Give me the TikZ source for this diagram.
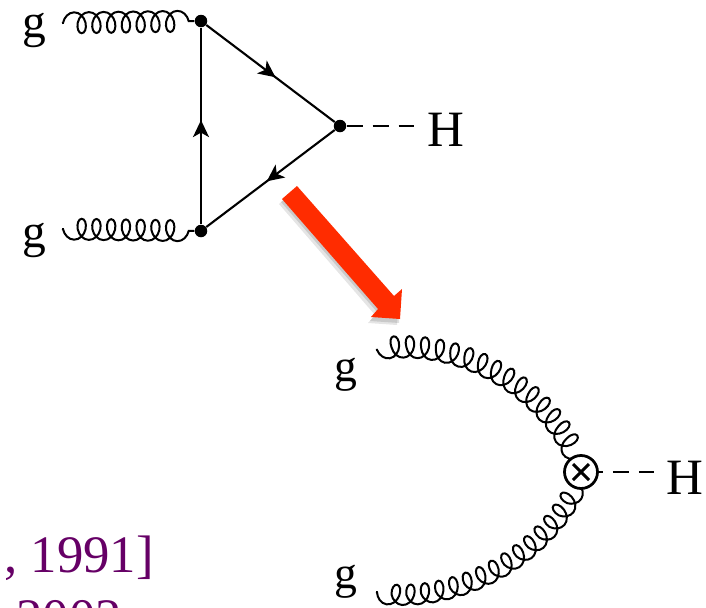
\documentclass[tikz,border=0pt]{standalone}
\usepackage{fontspec}
\setmainfont{Liberation Serif}
\usetikzlibrary{arrows.meta,decorations.pathmorphing,decorations.markings}
\definecolor{citepurple}{RGB}{102,0,102}
\definecolor{arrowred}{RGB}{255,44,0}
\tikzset{
  gluon/.style={line width=0.4mm,decorate,decoration={coil,aspect=0.72,segment length=2.95mm,amplitude=2.1mm,pre length=0.2mm,post length=0.2mm}},
  antigluon/.style={gluon,decoration={mirror}},
  fermion/.style={line width=0.42mm,postaction={decorate,decoration={markings,mark=at position #1 with {\arrow{Stealth[length=3.4mm,width=3.2mm,inset=0.9mm]}}}}},
  vertex/.style={circle,fill=black,inner sep=0pt,minimum size=2.5mm},
  higgs/.style={line width=0.36mm,dash pattern=on 3.2mm off 2mm},
  label/.style={inner sep=0pt,font=\fontsize{#1}{30}\selectfont},
}
\begin{document}
\begin{tikzpicture}[x=0.2mm,y=-0.2mm]
\useasboundingbox (0,0) rectangle (706,608);
\clip (0,0) rectangle (706,608);
% triangle
\node[vertex] (a) at (201,21) {};
\node[vertex] (b) at (201,231) {};
\node[vertex] (c) at (340,126) {};
\node[label=27] (g1) at (34,30) {g};
\node[label=27] (g2) at (34,240) {g};
\node[label=29] (h1) at (446,130) {H};
\coordinate (g1end) at (62,23);
\coordinate (g2end) at (62,229);
\coordinate (h1end) at (414,126);
\draw[gluon] (g1end)--(a);
\draw[antigluon] (g2end)--(b);
\draw[fermion=0.54] (a)--(c);
\draw[fermion=0.53] (b)--(a);
\draw[fermion=0.53] (c)--(b);
\draw[higgs] (c)--(h1end);
% red arrow
\fill[black,opacity=0.10] (279,204)--(294,191)--(391,301)--(399,294)--(397,325)--(368,323)--(375,315)--cycle;
\fill[black,opacity=0.12] (281,202)--(296,189)--(393,299)--(401,292)--(399,323)--(370,321)--(377,312)--cycle;
\fill[arrowred] (282,199)--(297,186)--(394,296)--(402,289)--(400,319)--(371,317)--(378,309)--cycle;
% effective vertex
\node[label=26] (g3) at (346,375) {g};
\node[label=26] (g4) at (346,582) {g};
\node[label=29] (h2) at (685,478) {H};
\coordinate (g3end) at (376,350);
\coordinate (g4end) at (376,592);
\coordinate (h2end) at (654,472);
\coordinate (effc) at (581,472);
\draw[antigluon] (g3end) .. controls (460,335) and (555,390) .. (effc);
\draw[antigluon] (g4end) .. controls (460,606) and (555,550) .. (effc);
\node[circle,draw,fill=white,line width=0.55mm,inner sep=0pt,minimum size=6.6mm] (eff) at (effc) {};
\draw[line width=0.6mm] (573,464)--(589,480) (573,480)--(589,464);
\draw[higgs,dash phase=2.4mm] (eff)--(h2end);
% cut off citation
\node[label=30,text=citepurple,anchor=base west] (cite1) at (4,572) {, 1991]};
\node[label=30,text=citepurple,anchor=base west] (cite2) at (16,635) {2002};
\end{tikzpicture}
\end{document}
